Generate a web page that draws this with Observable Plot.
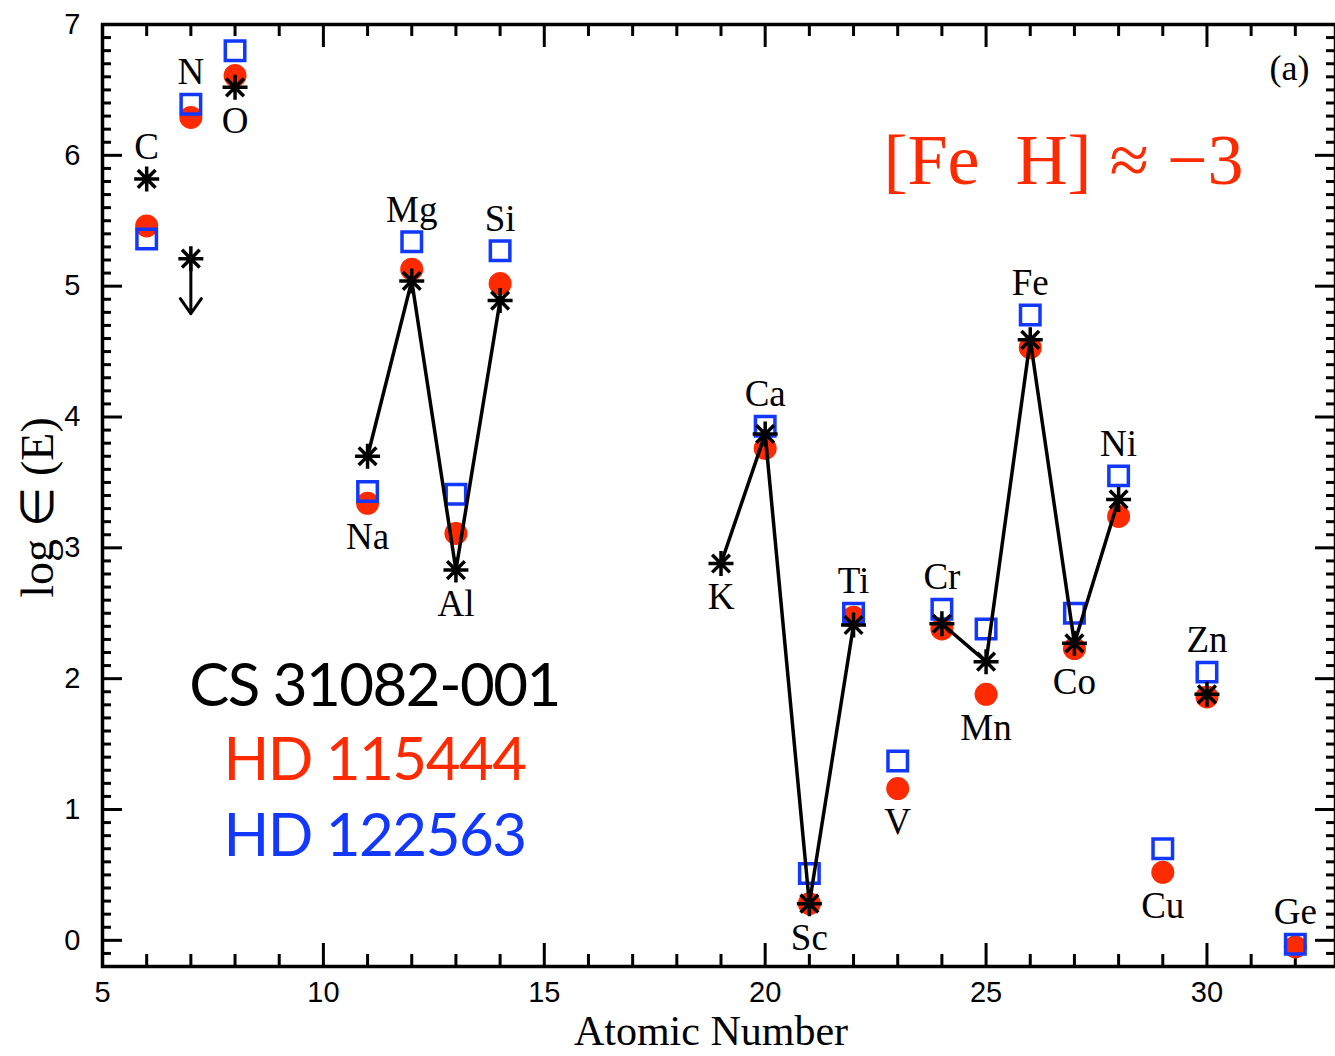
<!DOCTYPE html>
<html><head><meta charset="utf-8">
<script src="https://cdn.jsdelivr.net/npm/d3@7"></script>
<script src="https://cdn.jsdelivr.net/npm/@observablehq/plot@0.6"></script>
<style>html,body{margin:0;padding:0;background:#fff;overflow:hidden}</style>
</head><body><div id="chart"></div>
<script>
// ---- data ----
const elements = ["C","N","O","Na","Mg","Al","Si","K","Ca","Sc","Ti","V","Cr","Mn","Fe","Co","Ni","Cu","Zn","Ge"];
const atomicNumber = [6,7,8,11,12,13,14,19,20,21,22,23,24,25,26,27,28,29,30,32];
const cs31082 = [5.82,5.21,6.52,3.70,5.04,2.83,4.89,2.88,3.87,0.28,2.41,null,2.42,2.13,4.59,2.27,3.37,null,1.88,null];
const csUpperLimit = ["N"];
const csSegment = [null,null,null,1,1,1,1,2,2,2,2,null,3,3,3,3,3,null,null,null];
const hd115444 = [5.46,6.29,6.61,3.34,5.13,3.11,5.02,null,3.76,0.28,2.47,1.16,2.38,1.88,4.53,2.23,3.24,0.52,1.86,-0.05];
const hd122563 = [5.36,6.39,6.80,3.43,5.34,3.41,5.27,null,3.93,0.51,2.50,1.37,2.53,2.38,4.78,2.50,3.55,0.70,2.05,-0.03];
const labelSide = ["top","top","bottom","bottom","top","bottom","top","bottom","top","bottom","top","bottom","top","bottom","top","bottom","top","bottom","top","top"];
const starNames = ["CS 31082-001","HD 115444","HD 122563"];
const xMajorTicks = [5,10,15,20,25,30];
const yMajorTicks = [0,1,2,3,4,5,6,7];

// ---- styling ----
const BLACK = "#000", RED = "#ff2a00", BLUE = "#1238ff";
const W = 1335, H = 1056;
const L = 102, R = 1339, T = 24, B = 966;
const plotH = B - T, plotW = R - L;

const rows = elements.map((el, i) => {
  const vals = [cs31082[i], hd115444[i], hd122563[i]].filter(v => v != null);
  return {el, z: atomicNumber[i], cs: cs31082[i], hd115: hd115444[i], hd122: hd122563[i],
    seg: csSegment[i], side: labelSide[i],
    anchor: labelSide[i] === "top" ? Math.max(...vals) : Math.min(...vals)};
});

const xMinor = d3.range(6, 34).filter(v => v % 5 !== 0);
const yMinor = d3.range(-1, 70).filter(v => v % 10 !== 0).map(v => v / 10);

const asterisk8 = {
  draw(ctx, size) {
    const r = Math.sqrt(size / Math.PI), d = r * Math.SQRT1_2;
    ctx.moveTo(-r, 0); ctx.lineTo(r, 0);
    ctx.moveTo(0, -r); ctx.lineTo(0, r);
    ctx.moveTo(-d, -d); ctx.lineTo(d, d);
    ctx.moveTo(-d, d); ctx.lineTo(d, -d);
  }
};

const serif = "Liberation Serif, Times New Roman, serif";
const sans = "Liberation Sans, Arial, sans-serif";
const gill = "Lato, Noto Sans, sans-serif";

const legendY = [686, 760, 836];
const legendColors = [BLACK, RED, BLUE];

const marks = [
  // ticks (inward)
  Plot.tickX(xMajorTicks, {x: d => d, stroke: BLACK, strokeWidth: 3, insetTop: plotH - 23}),
  Plot.tickX(xMinor, {x: d => d, stroke: BLACK, strokeWidth: 3, insetTop: plotH - 12}),
  Plot.tickX(xMajorTicks, {x: d => d, stroke: BLACK, strokeWidth: 3, insetBottom: plotH - 23}),
  Plot.tickX(xMinor, {x: d => d, stroke: BLACK, strokeWidth: 3, insetBottom: plotH - 12}),
  Plot.tickY(yMajorTicks, {y: d => d, stroke: BLACK, strokeWidth: 3, insetRight: plotW - 24}),
  Plot.tickY(yMinor, {y: d => d, stroke: BLACK, strokeWidth: 3, insetRight: plotW - 13}),
  Plot.tickY(yMajorTicks, {y: d => d, stroke: BLACK, strokeWidth: 3, insetLeft: plotW - 24}),
  Plot.tickY(yMinor, {y: d => d, stroke: BLACK, strokeWidth: 3, insetLeft: plotW - 13}),
  Plot.frame({stroke: BLACK, strokeWidth: 3.5}),
  // tick labels
  Plot.text(xMajorTicks, {x: d => d, frameAnchor: "bottom", text: d => String(d), dy: 26, lineAnchor: "middle", textAnchor: "middle", fontSize: 29, fontFamily: sans, fill: BLACK}),
  Plot.text(yMajorTicks, {y: d => d, frameAnchor: "left", text: d => String(d), dx: -22, lineAnchor: "middle", textAnchor: "end", fontSize: 29, fontFamily: sans, fill: BLACK}),
  // axis titles
  Plot.text(["Atomic Number"], {frameAnchor: "bottom", dx: -8, dy: 65, lineAnchor: "middle", textAnchor: "middle", fontSize: 42, fontFamily: serif, fill: BLACK}),
  Plot.text(["log \u2208 (E)"], {frameAnchor: "left", dx: -64, dy: 12, rotate: -90, lineAnchor: "middle", textAnchor: "middle", fontSize: 46, fontFamily: serif, fill: BLACK}),
  // data
  Plot.dot(rows.filter(d => d.hd115 != null), {x: "z", y: "hd115", r: 11.5, fill: RED, stroke: "none"}),
  Plot.dot(rows.filter(d => d.hd122 != null), {x: "z", y: "hd122", r: 11, symbol: "square", fill: "none", stroke: BLUE, strokeWidth: 3.5}),
  Plot.line(rows.filter(d => d.seg != null), {x: "z", y: "cs", z: "seg", stroke: BLACK, strokeWidth: 3.5}),
  Plot.arrow(rows.filter(d => csUpperLimit.includes(d.el)), {x1: "z", x2: "z", y1: "cs", y2: d => d.cs - 0.42, stroke: BLACK, strokeWidth: 3, headLength: 14, headAngle: 70}),
  Plot.dot(rows.filter(d => d.cs != null), {x: "z", y: "cs", r: 12.5, symbol: asterisk8, fill: "none", stroke: BLACK, strokeWidth: 3.5}),
  // element labels
  Plot.text(rows.filter(d => d.side === "top"), {x: "z", y: "anchor", text: "el", dy: -32, lineAnchor: "middle", fontSize: 37, fontFamily: serif, fill: BLACK}),
  Plot.text(rows.filter(d => d.side === "bottom"), {x: "z", y: "anchor", text: "el", dy: 34, lineAnchor: "middle", fontSize: 37, fontFamily: serif, fill: BLACK}),
  // annotations
  Plot.text(["(a)"], {frameAnchor: "top-right", dx: -46, dy: 44, lineAnchor: "middle", textAnchor: "middle", fontSize: 36, fontFamily: serif, fill: BLACK}),
  Plot.text(["[Fe  H] \u2248 \u22123"], {frameAnchor: "top-left", dx: 781, dy: 136, textAnchor: "start", lineAnchor: "middle", fontSize: 72, fontFamily: serif, fill: RED}),
  ...starNames.map((name, i) => Plot.text([name], {frameAnchor: "top-left", dx: 272, dy: legendY[i] - T, textAnchor: "middle", lineAnchor: "middle", fontSize: 60, fontFamily: gill, fill: legendColors[i]}))
];

const chart = Plot.plot({
  width: W, height: H,
  marginTop: T, marginBottom: H - B, marginLeft: L, marginRight: 0,
  x: {domain: [5, 33], range: [L, R], axis: null},
  y: {domain: [-0.2, 7], axis: null},
  style: {background: "#fff", color: "#000", overflow: "hidden"},
  marks
});
document.getElementById("chart").appendChild(chart);
// tighten the legend lettering a little (Gill Sans is narrower than the fallback)
chart.querySelectorAll("text").forEach(t => {
  if (starNames.includes(t.textContent)) t.setAttribute("letter-spacing", "-1.5");
});
</script>
</body></html>
